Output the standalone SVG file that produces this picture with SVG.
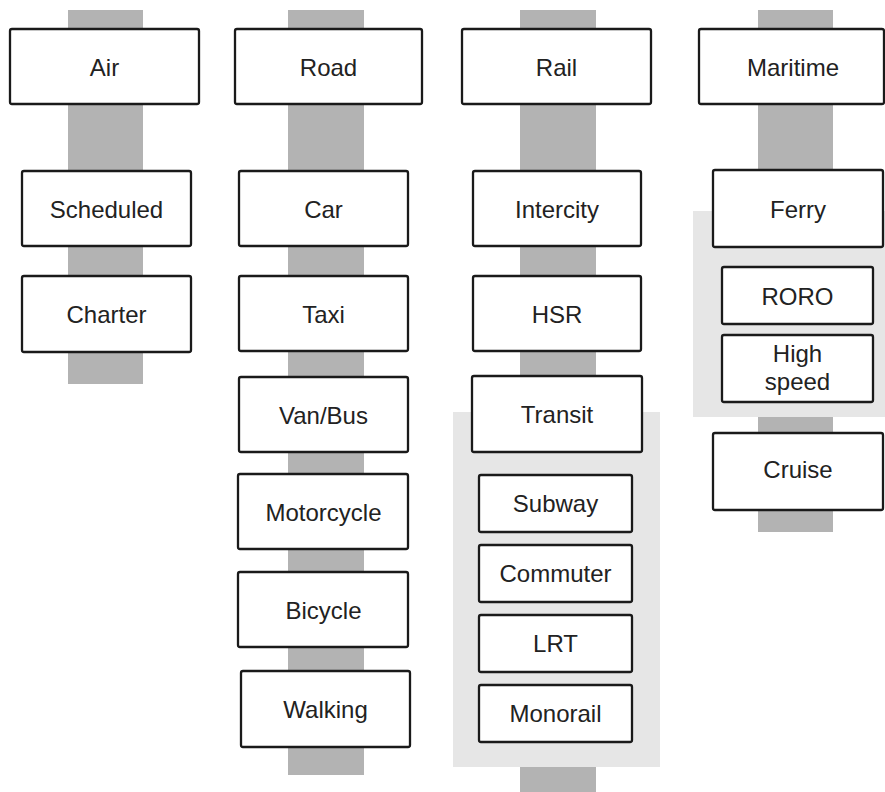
<svg xmlns="http://www.w3.org/2000/svg" width="885" height="792" viewBox="0 0 885 792">
<style>
.bar{fill:#b3b3b3}
.grp{fill:#e6e6e6}
.box{fill:#ffffff;stroke:#1a1a1a;stroke-width:2.3}
text{font-family:"Liberation Sans",Arial,Helvetica,sans-serif;font-size:24px;fill:#222222;text-anchor:middle}
</style>
<rect width="885" height="792" fill="#ffffff"/>
<g id="connectors">
<rect class="bar" x="68" y="10" width="75" height="374"/>
<rect class="bar" x="288" y="10" width="76" height="765"/>
<rect class="bar" x="520" y="10" width="76" height="782"/>
<rect class="bar" x="758" y="10" width="75" height="522"/>
</g>
<g id="group-transit">
<rect class="grp" x="453" y="412" width="207" height="355"/>
</g>
<g id="group-ferry">
<rect class="grp" x="693" y="211" width="192" height="206"/>
</g>
<g id="air"><rect class="box" x="10" y="29" width="189" height="75" rx="2"/><text x="104.5" y="76">Air</text></g>
<g id="scheduled"><rect class="box" x="22" y="171" width="169" height="75" rx="2"/><text x="106.5" y="218">Scheduled</text></g>
<g id="charter"><rect class="box" x="22" y="276" width="169" height="76" rx="2"/><text x="106.5" y="323">Charter</text></g>
<g id="road"><rect class="box" x="235" y="29" width="187" height="75" rx="2"/><text x="328.5" y="76">Road</text></g>
<g id="car"><rect class="box" x="239" y="171" width="169" height="75" rx="2"/><text x="323.5" y="218">Car</text></g>
<g id="taxi"><rect class="box" x="239" y="276" width="169" height="75" rx="2"/><text x="323.5" y="323">Taxi</text></g>
<g id="vanbus"><rect class="box" x="239" y="377" width="169" height="75" rx="2"/><text x="323.5" y="424">Van/Bus</text></g>
<g id="motorcycle"><rect class="box" x="238" y="474" width="170" height="75" rx="2"/><text x="323.5" y="521">Motorcycle</text></g>
<g id="bicycle"><rect class="box" x="238" y="572" width="170" height="75" rx="2"/><text x="323.5" y="619">Bicycle</text></g>
<g id="walking"><rect class="box" x="241" y="671" width="169" height="76" rx="2"/><text x="325.5" y="718">Walking</text></g>
<g id="rail"><rect class="box" x="462" y="29" width="189" height="75" rx="2"/><text x="556.5" y="76">Rail</text></g>
<g id="intercity"><rect class="box" x="473" y="171" width="168" height="75" rx="2"/><text x="557" y="218">Intercity</text></g>
<g id="hsr"><rect class="box" x="473" y="276" width="168" height="75" rx="2"/><text x="557" y="323">HSR</text></g>
<g id="transit"><rect class="box" x="472" y="376" width="170" height="76" rx="2"/><text x="557" y="423">Transit</text></g>
<g id="subway"><rect class="box" x="479" y="475" width="153" height="57" rx="2"/><text x="555.5" y="512">Subway</text></g>
<g id="commuter"><rect class="box" x="479" y="545" width="153" height="57" rx="2"/><text x="555.5" y="582">Commuter</text></g>
<g id="lrt"><rect class="box" x="479" y="615" width="153" height="57" rx="2"/><text x="555.5" y="652">LRT</text></g>
<g id="monorail"><rect class="box" x="479" y="685" width="153" height="57" rx="2"/><text x="555.5" y="722">Monorail</text></g>
<g id="maritime"><rect class="box" x="699" y="29" width="185" height="75" rx="2"/><text x="793" y="76">Maritime</text></g>
<g id="ferry"><rect class="box" x="713" y="170" width="170" height="77" rx="2"/><text x="798" y="218">Ferry</text></g>
<g id="roro"><rect class="box" x="722" y="267" width="151" height="57" rx="2"/><text x="797.5" y="305">RORO</text></g>
<g id="highspeed"><rect class="box" x="722" y="335" width="151" height="67" rx="2"/><text x="797.5" y="362">High</text><text x="797.5" y="390">speed</text></g>
<g id="cruise"><rect class="box" x="713" y="433" width="170" height="77" rx="2"/><text x="798" y="478">Cruise</text></g>
</svg>
